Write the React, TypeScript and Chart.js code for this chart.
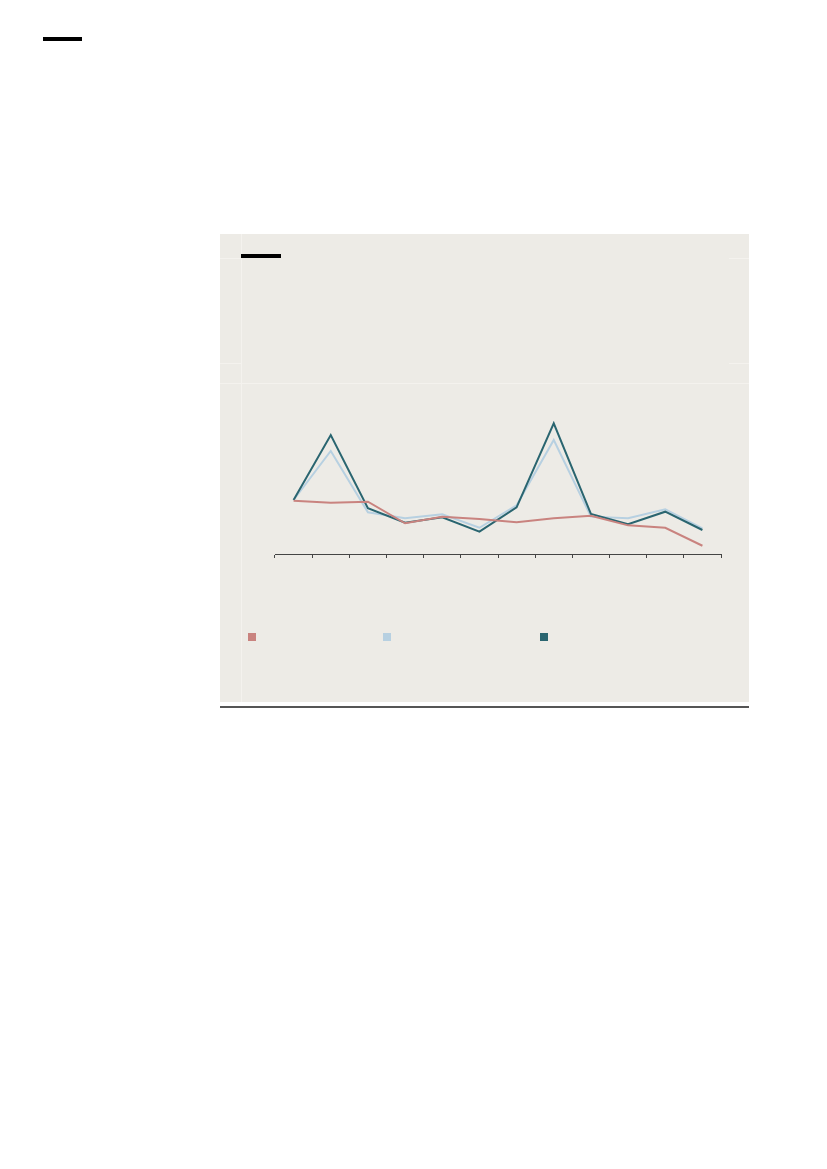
import { useEffect, useRef } from 'react';
import Chart from 'chart.js/auto';

// 12 periods, labels are not shown in the picture
const PERIODS = ['1', '2', '3', '4', '5', '6', '7', '8', '9', '10', '11', '12'];

const SERIES_RED = [35.5, 34.2, 34.9, 20.5, 24.9, 23.3, 21.1, 23.8, 25.5, 19.1, 17.5, 5.5];
const SERIES_BLUE = [36.0, 68.7, 27.8, 23.8, 26.5, 17.5, 32.5, 76.0, 24.9, 23.8, 29.8, 17.1];
const SERIES_TEAL = [36.0, 79.3, 30.5, 20.9, 24.5, 14.9, 31.1, 87.1, 26.7, 19.8, 28.2, 16.0];

const Y_MIN = 0;
const Y_MAX = 100;

const C = {
  red: '#c9837f',
  blue: '#b7d0e1',
  teal: '#2a6570',
  panel: '#edebe6',
  faint: '#f4f2ee',
  axis: '#444444'
};

const abs = (left: number, top: number, width: number, height: number, bg: string) => ({
  position: 'absolute' as const,
  left,
  top,
  width,
  height,
  background: bg
});

export default function App() {
  const canvasRef = useRef<HTMLCanvasElement | null>(null);

  useEffect(() => {
    let chart: Chart | null = null;
    if (canvasRef.current) {
      chart = new Chart(canvasRef.current, {
        type: 'line',
        data: {
          labels: PERIODS,
          datasets: [
            {
              data: SERIES_RED,
              borderColor: C.red,
              borderWidth: 2,
              pointRadius: 0,
              tension: 0,
              order: 0
            },
            {
              data: SERIES_BLUE,
              borderColor: C.blue,
              borderWidth: 2,
              pointRadius: 0,
              tension: 0,
              order: 2
            },
            {
              data: SERIES_TEAL,
              borderColor: C.teal,
              borderWidth: 2,
              pointRadius: 0,
              tension: 0,
              order: 1
            }
          ]
        },
        options: {
          animation: false,
          responsive: true,
          maintainAspectRatio: false,
          layout: { padding: { left: 2, right: 2, top: 4, bottom: 2 } },
          plugins: {
            legend: { display: false },
            tooltip: { enabled: false }
          },
          scales: {
            x: {
              offset: true,
              grid: {
                offset: true,
                drawOnChartArea: false,
                drawTicks: true,
                tickLength: 4,
                color: C.axis
              },
              border: { display: true, color: C.axis, width: 1 },
              ticks: { display: false }
            },
            y: {
              display: false,
              min: Y_MIN,
              max: Y_MAX
            }
          }
        }
      });
    }
    return () => {
      if (chart) chart.destroy();
    };
  }, []);

  return (
    <div style={{ position: 'absolute', left: 0, top: 0, width: 827, height: 1169 }}>
      <div style={abs(43, 37, 39, 4, '#000')} />

      <div style={abs(220, 234, 529, 468, C.panel)} />
      <div style={abs(241, 234, 1, 468, C.faint)} />
      <div style={abs(220, 383, 529, 1, C.faint)} />
      <div style={abs(220, 258, 21, 1, C.faint)} />
      <div style={abs(729, 258, 20, 1, C.faint)} />
      <div style={abs(220, 363, 21, 1, C.faint)} />
      <div style={abs(729, 363, 20, 1, C.faint)} />
      <div style={abs(241, 254, 40, 4, '#000')} />

      <div style={{ position: 'absolute', left: 273, top: 400, width: 450, height: 160 }}>
        <canvas ref={canvasRef} />
      </div>

      <div style={abs(248, 633, 8, 8, C.red)} />
      <div style={abs(383, 633, 8, 8, C.blue)} />
      <div style={abs(540, 633, 8, 8, C.teal)} />

      <div style={abs(220, 706, 529, 1.5, '#555')} />
    </div>
  );
}
